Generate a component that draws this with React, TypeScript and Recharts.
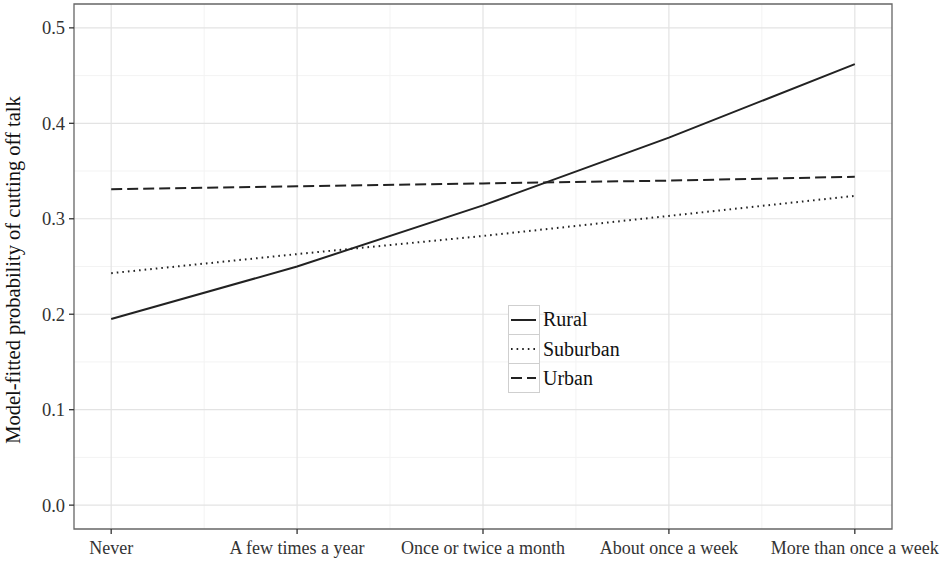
import React from 'react';
import { LineChart, Line, XAxis, YAxis, CartesianGrid, ReferenceArea } from 'recharts';

// Frequency categories (x positions 1..5 on a continuous axis)
const categories = ['Never', 'A few times a year', 'Once or twice a month', 'About once a week', 'More than once a week'];
const catPositions = [1, 2, 3, 4, 5];

// Model-fitted probabilities
const rural = [0.195, 0.25, 0.314, 0.385, 0.462];
const suburban = [0.243, 0.263, 0.282, 0.303, 0.324];
const urban = [0.331, 0.334, 0.337, 0.34, 0.344];

const yTicks = [0, 0.1, 0.2, 0.3, 0.4, 0.5];
const yMinor = [0.05, 0.15, 0.25, 0.35, 0.45];
const xMinor = [1.5, 2.5, 3.5, 4.5];

const data = catPositions.map((x, i) => ({
    x,
    label: categories[i],
    Rural: rural[i],
    Suburban: suburban[i],
    Urban: urban[i],
}));

const series = [
    { key: 'Rural', dash: undefined as string | undefined },
    { key: 'Suburban', dash: '1.6 4' },
    { key: 'Urban', dash: '11 5' },
];

const FONT = '"Liberation Serif", "DejaVu Serif", serif';
const LINE_COLOR = '#222';

// Legend drawn as an overlay so it doesn't take space from the plot
const ChartLegend = () => (
    <div style={{ position: 'absolute', left: 508, top: 305, fontFamily: FONT, fontSize: 20, color: '#111' }}>
        {series.map((s, i) => (
            <div key={s.key} style={{ display: 'flex', alignItems: 'center', height: 29.5 }}>
                <svg width={32} height={30} style={{ display: 'block', marginTop: i === 0 ? 0 : -1 }}>
                    <rect x={0.5} y={0.5} width={31} height={29} fill="#fff" stroke="#cfcfcf" />
                    <line x1={3} x2={28} y1={15} y2={15} stroke={LINE_COLOR} strokeWidth={2} strokeDasharray={s.dash} />
                </svg>
                <span style={{ marginLeft: 3 }}>{s.key}</span>
            </div>
        ))}
    </div>
);

// y-axis title, rotated, centred on the panel
const YTitle = () => (
    <text
        transform="translate(20, 270) rotate(-90)"
        textAnchor="middle"
        fill="#111"
        fontSize={20.5}
        fontFamily={FONT}
    >
        Model-fitted probability of cutting off talk
    </text>
);

const App: React.FC = () => {
    return (
        <div style={{ position: 'absolute', left: 0, top: 0, width: 945, height: 562, background: '#fff' }}>
            <LineChart width={945} height={562} data={data} margin={{ top: 4, right: 53, bottom: 0, left: 0 }}>
                {/* minor grid */}
                <CartesianGrid
                    horizontalValues={yMinor}
                    verticalValues={xMinor}
                    stroke="#f3f3f3"
                    strokeWidth={1}
                />
                {/* major grid */}
                <CartesianGrid
                    horizontalValues={yTicks}
                    verticalValues={catPositions}
                    stroke="#e3e3e3"
                    strokeWidth={1.2}
                />
                <XAxis
                    dataKey="x"
                    type="number"
                    domain={[0.8, 5.2]}
                    ticks={catPositions}
                    allowDataOverflow
                    tickFormatter={(v: number) => categories[v - 1]}
                    height={33}
                    tickSize={5}
                    tickMargin={7}
                    axisLine={false}
                    tickLine={{ stroke: '#333', strokeWidth: 1.3 }}
                    tick={{ fill: '#333', fontSize: 18, fontFamily: FONT }}
                    interval={0}
                />
                <YAxis
                    type="number"
                    domain={[-0.025, 0.525]}
                    ticks={yTicks}
                    allowDataOverflow
                    tickFormatter={(v: number) => v.toFixed(1)}
                    width={74}
                    tickSize={5}
                    tickMargin={4}
                    axisLine={false}
                    tickLine={{ stroke: '#333', strokeWidth: 1.3 }}
                    tick={{ fill: '#333', fontSize: 18.5, fontFamily: FONT }}
                    label={{ content: () => <YTitle /> }}
                />
                {series.map((s) => (
                    <Line
                        key={s.key}
                        type="linear"
                        dataKey={s.key}
                        stroke={LINE_COLOR}
                        strokeWidth={2}
                        strokeDasharray={s.dash}
                        dot={false}
                        activeDot={false}
                        isAnimationActive={false}
                    />
                ))}
                {/* panel border */}
                <ReferenceArea
                    x1={0.8}
                    x2={5.2}
                    y1={-0.025}
                    y2={0.525}
                    fill="none"
                    fillOpacity={0}
                    stroke="#666"
                    strokeWidth={1.3}
                />
            </LineChart>
            <ChartLegend />
        </div>
    );
};

export default App;
